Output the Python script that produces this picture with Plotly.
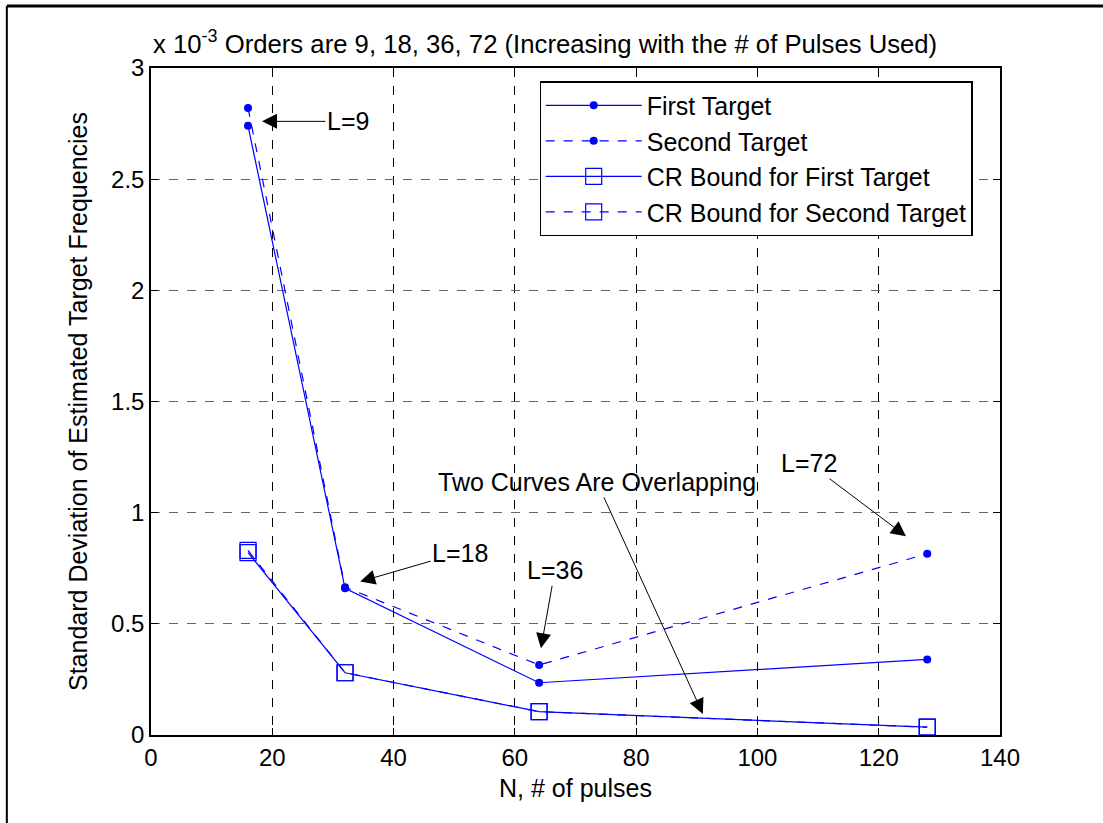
import plotly.graph_objects as go

N = [16, 32, 64, 128]
first_target = [2.74, 0.66, 0.235, 0.34]
second_target = [2.82, 0.665, 0.315, 0.815]
cr_first = [0.82, 0.28, 0.105, 0.035]
cr_second = [0.83, 0.28, 0.105, 0.035]
x_ticks = [0, 20, 40, 60, 80, 100, 120, 140]
y_ticks = [0, 0.5, 1, 1.5, 2, 2.5, 3]
y_tick_text = ["0", "0.5", "1", "1.5", "2", "2.5", "3"]

FONT = "Liberation Sans, Arial, sans-serif"
BLUE = "#0000ff"
TXT = 25

fig = go.Figure()
fig.add_trace(go.Scatter(x=N, y=first_target, mode="lines+markers", name="First Target",
                         line=dict(color=BLUE, width=1.2),
                         marker=dict(symbol="circle", size=8, color=BLUE)))
fig.add_trace(go.Scatter(x=N, y=second_target, mode="lines+markers", name="Second Target",
                         line=dict(color=BLUE, width=1.2, dash="dash"),
                         marker=dict(symbol="circle", size=8, color=BLUE)))
fig.add_trace(go.Scatter(x=N, y=cr_first, mode="lines+markers", name="CR Bound for First Target",
                         line=dict(color=BLUE, width=1.2),
                         marker=dict(symbol="square-open", size=16, color=BLUE, line=dict(width=1.2))))
fig.add_trace(go.Scatter(x=N, y=cr_second, mode="lines+markers", name="CR Bound for Second Target",
                         line=dict(color=BLUE, width=1.2, dash="dash"),
                         marker=dict(symbol="square-open", size=16, color=BLUE, line=dict(width=1.2))))

axis_common = dict(showline=True, linecolor="black", linewidth=1.5, mirror="ticks",
                   ticks="inside", ticklen=7, tickcolor="black", zeroline=False,
                   tickfont=dict(family=FONT, size=24, color="black"),
                   showgrid=True, griddash="dash", gridwidth=1)

fig.update_xaxes(range=[0, 140], tickvals=x_ticks, gridcolor="black",
                 title=dict(text="N, # of pulses", font=dict(family=FONT, size=TXT, color="black"), standoff=10),
                 **axis_common)
fig.update_yaxes(range=[0, 3], tickvals=y_ticks, ticktext=y_tick_text, gridcolor="#666666",
                 title=dict(text="Standard Deviation of Estimated Target Frequencies",
                            font=dict(family=FONT, size=TXT, color="black"), standoff=16),
                 **axis_common)

ann_font = dict(family=FONT, size=TXT, color="black")
arrow = dict(showarrow=True, arrowhead=2, arrowsize=3, arrowwidth=1, arrowcolor="black",
             xref="x", yref="y", font=ann_font)
fig.add_annotation(x=18.3, y=2.76, text="L=9", ax=86, ay=0, **arrow)
fig.add_annotation(x=34.5, y=0.69, text="L=18", ax=100, ay=-29, **arrow)
fig.add_annotation(x=64.3, y=0.39, text="L=36", ax=14, ay=-78, **arrow)
fig.add_annotation(x=124.5, y=0.894, text="L=72", ax=-97, ay=-73, **arrow)
fig.add_annotation(x=91.0, y=0.095, text="Two Curves Are Overlapping", ax=-106, ay=-232, **arrow)

fig.add_annotation(xref="paper", yref="paper", x=0, y=1.0, xanchor="left", yanchor="bottom",
                   yshift=8, showarrow=False, font=dict(family=FONT, size=25.7, color="black"),
                   text="x 10<sup>-3</sup> Orders are 9, 18, 36, 72 (Increasing with the # of Pulses Used)")

# outer figure border (top and left)
fig.add_shape(type="line", xref="paper", yref="paper", x0=-0.1698, x1=1.15, y0=1.0929, y1=1.0929,
              line=dict(color="black", width=3))
fig.add_shape(type="line", xref="paper", yref="paper", x0=-0.1698, x1=-0.1698, y0=1.0929, y1=-0.2,
              line=dict(color="black", width=2))

fig.update_layout(
    width=1103, height=823,
    margin=dict(l=151, r=103, t=68, b=88),
    paper_bgcolor="white", plot_bgcolor="white",
    font=dict(family=FONT, size=TXT, color="black"),
    legend=dict(x=0.4576, y=0.98, xanchor="left", yanchor="top",
                bordercolor="black", borderwidth=1.2, bgcolor="white",
                font=dict(family=FONT, size=TXT, color="black"),
                tracegroupgap=0, itemwidth=96),
    showlegend=True,
)

fig.write_html("out.html")
